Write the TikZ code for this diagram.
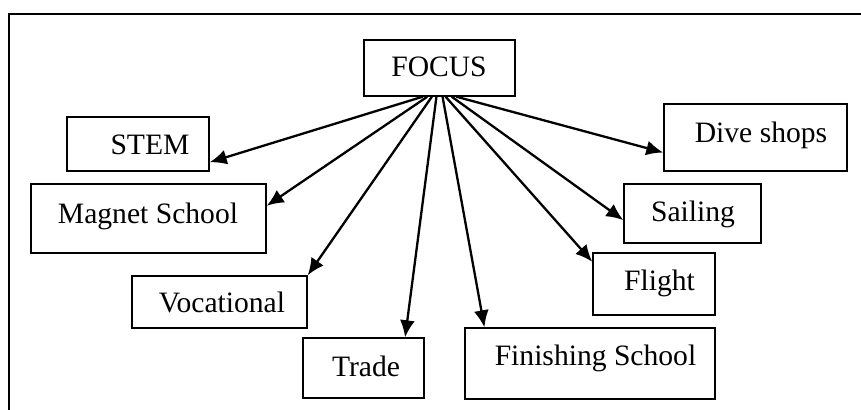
\documentclass[tikz,border=0pt]{standalone}
\usepackage{fontspec}
\setmainfont{Liberation Serif}
\usepackage{tikz}
\usetikzlibrary{arrows.meta,calc}

\begin{document}
\begin{tikzpicture}[
x=0.5pt, y=-0.5pt,
box/.style={
  draw,
  line width=0.7pt,
  inner sep=0pt
  },
word/.style={
  anchor=base,
  inner sep=0pt,
  font=\fontsize{14.8pt}{17pt}\selectfont
  },
arr/.style={
  ->,
  line width=1.15pt
  },
>={Latex[length=8.5pt,width=7.5pt]}
]
\useasboundingbox (0,0) rectangle (861,410);
% outer frame (open at right and bottom)
\draw[line width=1pt] (9,410) -- (9,14) -- (861,14);

% boxes
\node[box, minimum width=75.5pt, minimum height=28pt] (focus) at (439.5,68) {};
\node[box, minimum width=71pt, minimum height=27pt] (stem) at (138,144) {};
\node[box, minimum width=117.5pt, minimum height=34.5pt] (magnet) at (148.5,218.5) {};
\node[box, minimum width=87.5pt, minimum height=26pt] (voc) at (219.5,302) {};
\node[box, minimum width=60.5pt, minimum height=30pt] (trade) at (363.5,368) {};
\node[box, minimum width=125pt, minimum height=35.5pt] (finish) at (590,363.5) {};
\node[box, minimum width=61pt, minimum height=31pt] (flight) at (654,284) {};
\node[box, minimum width=68.5pt, minimum height=29.5pt] (sail) at (692.5,213.5) {};
\node[box, minimum width=91.5pt, minimum height=33.5pt] (dive) at (755.5,137.5) {};

% texts
\node[word] (focus-t) at (439,77) {FOCUS};
\node[word] (stem-t) at (150,155) {STEM};
\node[word] (magnet-t) at (148,224) {Magnet School};
\node[word] (voc-t) at (222,313) {Vocational};
\node[word] (trade-t) at (366,377) {Trade};
\node[word] (finish-t) at (595.5,366) {Finishing School};
\node[word] (flight-t) at (659.5,291) {Flight};
\node[word] (sail-t) at (693,222) {Sailing};
\node[word] (dive-t) at (761,143) {Dive shops};

% arrows
\foreach \f/\n/\p/\q/\t in {
  0.39/stem/north east/south east/0.83,
  0.42/magnet/north east/south east/0.32,
  0.45/voc/north east/north east/0,
  0.48/trade/north west/north east/0.84,
  0.52/finish/north west/north east/0.08,
  0.54/flight/north west/south west/0.15,
  0.58/sail/north west/south west/0.61,
  0.61/dive/north west/south west/0.72}
  \draw[arr] ($(focus.south west)!\f!(focus.south east)$) -- ($(\n.\p)!\t!(\n.\q)$);

\end{tikzpicture}
\end{document}
